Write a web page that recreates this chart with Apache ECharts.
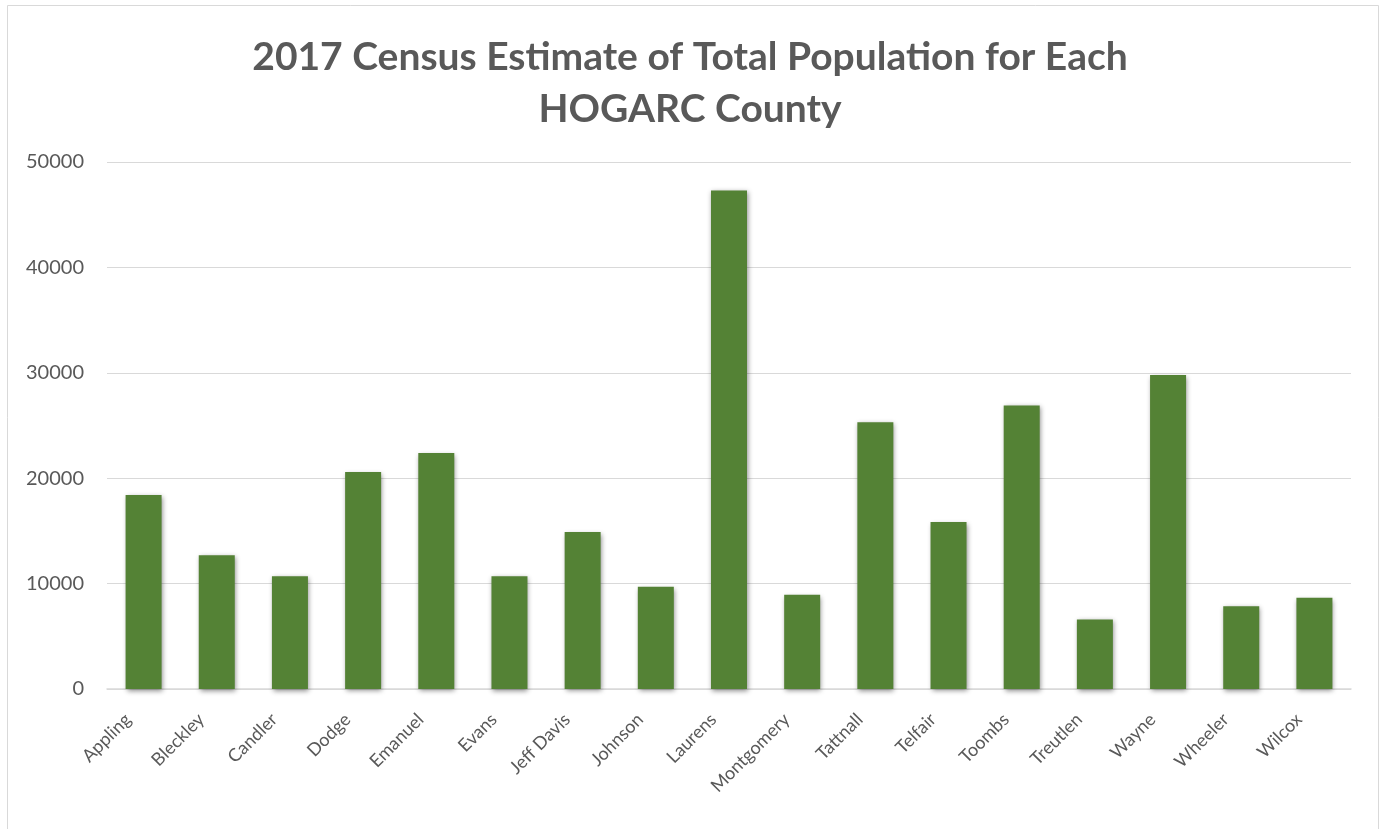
<!DOCTYPE html>
<html>
<head>
<meta charset="utf-8">
<script src="https://cdn.jsdelivr.net/npm/echarts@6/dist/echarts.min.js"></script>
<style>
html,body{margin:0;padding:0;background:#fff;}
#chart{width:1380px;height:829px;}
</style>
</head>
<body>
<div id="chart"></div>
<script>
const categories = ["Appling","Bleckley","Candler","Dodge","Emanuel","Evans","Jeff Davis","Johnson","Laurens","Montgomery","Tattnall","Telfair","Toombs","Treutlen","Wayne","Wheeler","Wilcox"];
const population = [18400,12700,10700,20600,22400,10700,14900,9700,47300,8950,25300,15850,26900,6600,29800,7850,8650];
const titleText = "2017 Census Estimate of Total Population for Each\nHOGARC County";

const chart = echarts.init(document.getElementById('chart'));
chart.setOption({
  backgroundColor: '#ffffff',
  animation: false,
  graphic: [{
    type: 'rect',
    shape: {x: 7.5, y: 5.5, width: 1371, height: 830},
    style: {fill: 'none', stroke: '#d9d9d9', lineWidth: 1}
  }],
  title: {
    text: titleText,
    left: 'center',
    top: 26,
    textStyle: {fontFamily: 'Lato', fontWeight: 'bold', fontSize: 39, color: '#595959', lineHeight: 52}
  },
  grid: {left: 107, right: 29, top: 162, bottom: 140, containLabel: false},
  xAxis: {
    type: 'category',
    data: categories,
    axisLine: {lineStyle: {color: '#d9d9d9', width: 1.5}},
    axisTick: {show: false},
    axisLabel: {rotate: 45, interval: 0, color: '#595959', fontFamily: 'Lato', fontSize: 18, margin: 12, padding: [0, 22, 0, 0]}
  },
  yAxis: {
    type: 'value',
    min: 0, max: 50000, interval: 10000,
    axisLine: {show: false},
    axisTick: {show: false},
    splitLine: {lineStyle: {color: '#d9d9d9', width: 1}},
    axisLabel: {color: '#595959', fontFamily: 'Lato', fontSize: 20, margin: 23, formatter: function (v) { return String(v); }}
  },
  series: [{
    type: 'bar',
    data: population,
    barWidth: 36,
    itemStyle: {
      color: '#548235',
      shadowColor: 'rgba(0,0,0,0.45)',
      shadowBlur: 5,
      shadowOffsetX: 1,
      shadowOffsetY: 2
    }
  }]
});
</script>
</body>
</html>
